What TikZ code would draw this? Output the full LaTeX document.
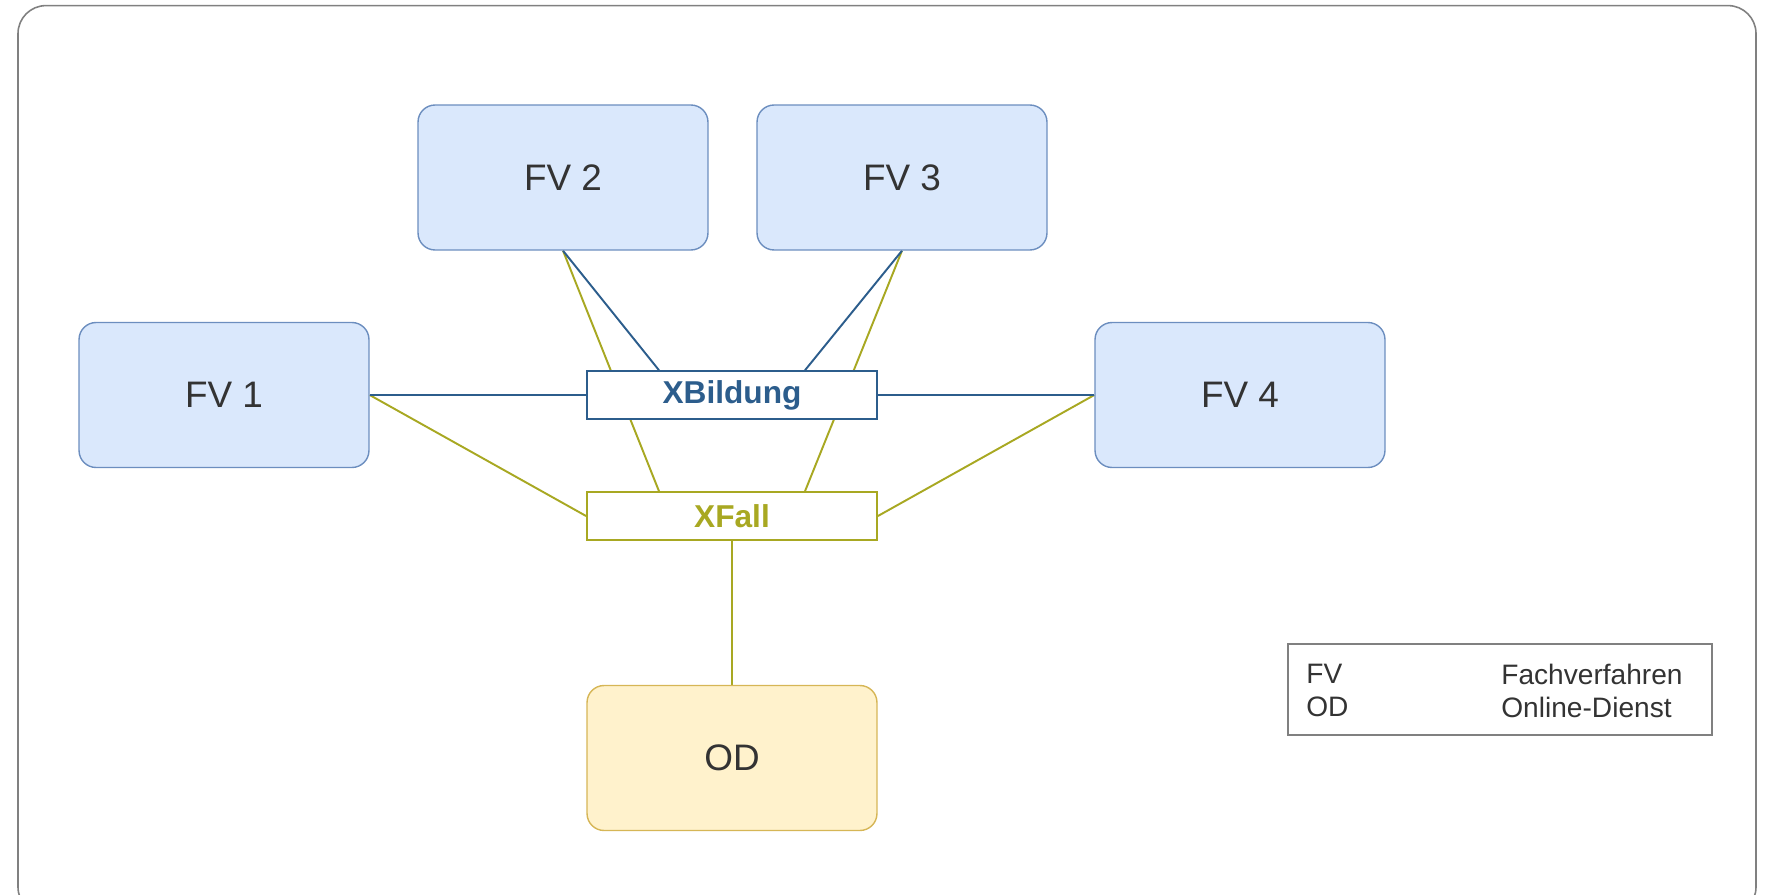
\documentclass[tikz,border=0pt]{standalone}
\usepackage{fontspec}
\setmainfont{Liberation Sans}
\usetikzlibrary{calc,backgrounds}
\definecolor{fvfill}{HTML}{DAE8FC}
\definecolor{fvline}{HTML}{6C8EBF}
\definecolor{odfill}{HTML}{FFF2CC}
\definecolor{odline}{HTML}{D6B656}
\definecolor{xbblue}{HTML}{2C5D8C}
\definecolor{xfolive}{HTML}{A8A822}
\definecolor{txtgray}{HTML}{333333}
\tikzset{
	fvbox/.style={draw=fvline,fill=fvfill,line width=0.8pt,rounded corners=0.34cm,minimum width=5.8cm,minimum height=2.9cm,text=txtgray,font=\fontsize{21}{25}\selectfont},
	odbox/.style={fvbox,draw=odline,fill=odfill},
	xbox/.style={draw=#1,fill=white,line width=1.1pt,minimum width=5.8cm,minimum height=0.95cm,text=#1,font=\fontsize{18}{21}\selectfont\bfseries},
	blueline/.style={draw=xbblue,line width=1.1pt},
	oliveline/.style={draw=xfolive,line width=1.1pt},
	legtxt/.style={anchor=west,text=txtgray,inner sep=0pt,font=\fontsize{16}{19}\selectfont}
}
\begin{document}
\begin{tikzpicture}[x=0.02cm,y=-0.02cm]
	\useasboundingbox (0,0) rectangle (1765,895);
	\draw[gray,line width=0.9pt,rounded corners=0.56cm] (18,5.6) rectangle (1756,915);

	\node[fvbox] (fv1) at (224,395) {FV 1};
	\node[fvbox] (fv2) at (563,177.5) {FV 2};
	\node[fvbox] (fv3) at (902,177.5) {FV 3};
	\node[fvbox] (fv4) at (1240,395) {FV 4};
	\node[odbox] (od) at (732,758) {OD};
	\node[xbox=xbblue] (xb) at (732,395) {XBildung};
	\node[xbox=xfolive] (xf) at (732,516) {XFall};

	\coordinate (xbl) at ($(xb.north west)!0.25!(xb.north east)$);
	\coordinate (xbr) at ($(xb.north west)!0.75!(xb.north east)$);
	\coordinate (xfl) at ($(xf.north west)!0.25!(xf.north east)$);
	\coordinate (xfr) at ($(xf.north west)!0.75!(xf.north east)$);

	\begin{scope}[on background layer]
		\draw[oliveline] (fv2.south) -- (xfl);
		\draw[oliveline] (fv3.south) -- (xfr);
		\draw[oliveline] (fv1.east) -- (xf.west);
		\draw[oliveline] (fv4.west) -- (xf.east);
		\draw[oliveline] (xf.south) -- (od.north);
		\draw[blueline] (fv2.south) -- (xbl);
		\draw[blueline] (fv3.south) -- (xbr);
		\draw[blueline] (fv1.east) -- (xb.west);
		\draw[blueline] (fv4.west) -- (xb.east);
	\end{scope}

	\node[draw=gray,line width=0.9pt,minimum width=8.48cm,minimum height=1.82cm] (leg) at (1500,689.5) {};
	\node[legtxt] (legfv) at (1306,674) {FV};
	\node[legtxt] (legod) at (1306,707) {OD};
	\node[legtxt] (legfvtxt) at (1501,674) {Fachverfahren};
	\node[legtxt] (legodtxt) at (1501,707) {Online-Dienst};
\end{tikzpicture}
\end{document}
